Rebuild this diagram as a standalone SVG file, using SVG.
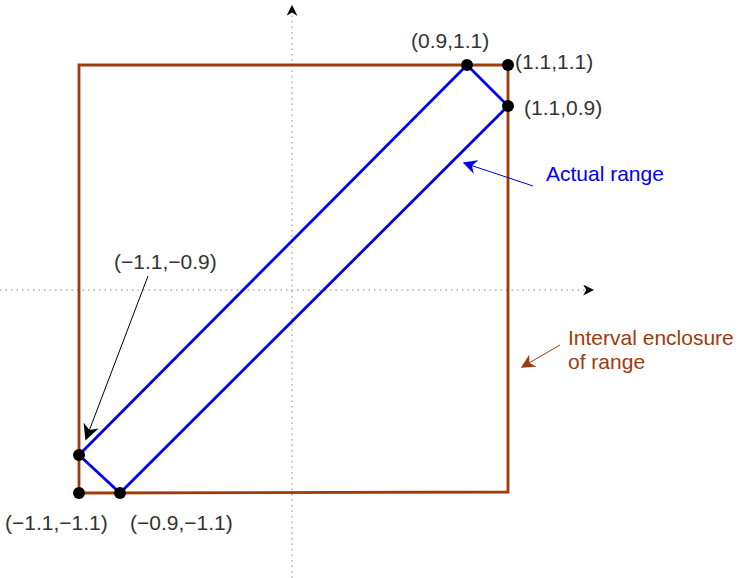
<svg xmlns="http://www.w3.org/2000/svg" width="738" height="578" viewBox="0 0 738 578">
<style>
.lbl{font-family:"Liberation Sans",Arial,sans-serif;font-size:21px;fill:#333}
.axis{stroke:#888;stroke-width:1;stroke-dasharray:1.5 4;fill:none}
.pt{fill:#000}
</style>
<defs>
<marker id="ah" viewBox="0 0 10 10" refX="9" refY="5" markerWidth="11" markerHeight="11" markerUnits="userSpaceOnUse" orient="auto">
<path d="M0,0 L10,5 L0,10 L3,5 Z" fill="#000"/>
</marker>
<marker id="ahb" viewBox="0 0 10 10" refX="9" refY="5" markerWidth="14" markerHeight="14" markerUnits="userSpaceOnUse" orient="auto">
<path d="M0,0 L10,5 L0,10 L3,5 Z" fill="#0000ee"/>
</marker>
<marker id="ahr" viewBox="0 0 10 10" refX="9" refY="5" markerWidth="14" markerHeight="14" markerUnits="userSpaceOnUse" orient="auto">
<path d="M0,0 L10,5 L0,10 L3,5 Z" fill="#a03a0a"/>
</marker>
<marker id="ahk" viewBox="0 0 10 10" refX="9" refY="5" markerWidth="16" markerHeight="16" markerUnits="userSpaceOnUse" orient="auto">
<path d="M0,0 L10,5 L0,10 L3,5 Z" fill="#000"/>
</marker>
</defs>
<g id="axes">
<line class="axis" x1="292" y1="578" x2="292" y2="6" marker-end="url(#ah)"/>
<line class="axis" x1="0" y1="290" x2="593" y2="290" marker-end="url(#ah)"/>
</g>
<g id="enclosure">
<path d="M79,65 L508,65 L508,492 L79,493 Z" fill="none" stroke="#a03a0a" stroke-width="2.8"/>
</g>
<g id="range">
<path d="M79,455 L467,65 L508,106 L120,493 Z" fill="none" stroke="#0000ee" stroke-width="2.8"/>
</g>
<g id="points">
<circle class="pt" cx="467" cy="65" r="6"/>
<circle class="pt" cx="508" cy="65" r="6"/>
<circle class="pt" cx="508" cy="106" r="6"/>
<circle class="pt" cx="79" cy="455" r="6"/>
<circle class="pt" cx="79" cy="493" r="6"/>
<circle class="pt" cx="120" cy="493" r="6"/>
</g>
<g id="connectors">
<line x1="148" y1="276" x2="86" y2="439" stroke="#000" stroke-width="1" marker-end="url(#ahk)"/>
<line x1="533" y1="186" x2="464" y2="163" stroke="#0000ee" stroke-width="1" marker-end="url(#ahb)"/>
<line x1="560" y1="345" x2="522" y2="367" stroke="#a03a0a" stroke-width="1" marker-end="url(#ahr)"/>
</g>
<g id="labels">
<text class="lbl" x="411" y="48">(0.9,1.1)</text>
<text class="lbl" x="515" y="69">(1.1,1.1)</text>
<text class="lbl" x="524" y="115">(1.1,0.9)</text>
<text class="lbl" x="114" y="269">(−1.1,−0.9)</text>
<text class="lbl" x="5" y="530">(−1.1,−1.1)</text>
<text class="lbl" x="130" y="530">(−0.9,−1.1)</text>
<text class="lbl" x="546" y="181" style="fill:#0000ee">Actual range</text>
<text class="lbl" x="568" y="345" style="fill:#a03a0a">Interval enclosure</text>
<text class="lbl" x="568" y="369" style="fill:#a03a0a">of range</text>
</g>
</svg>
